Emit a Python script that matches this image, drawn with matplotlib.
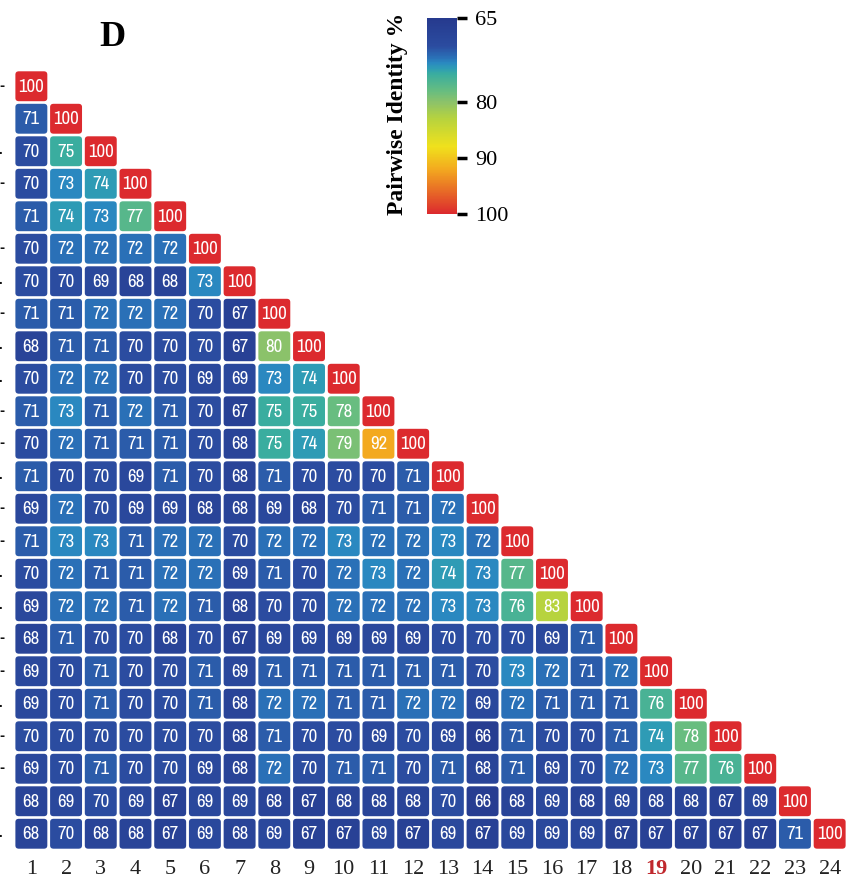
import numpy as np
import matplotlib
matplotlib.use("Agg")
import matplotlib.pyplot as plt
from matplotlib.patches import FancyBboxPatch
from matplotlib.colors import LinearSegmentedColormap, Normalize
from matplotlib.cm import ScalarMappable

labels = [str(i) for i in range(1, 25)]
rows = [
    [100],
    [71, 100],
    [70, 75, 100],
    [70, 73, 74, 100],
    [71, 74, 73, 77, 100],
    [70, 72, 72, 72, 72, 100],
    [70, 70, 69, 68, 68, 73, 100],
    [71, 71, 72, 72, 72, 70, 67, 100],
    [68, 71, 71, 70, 70, 70, 67, 80, 100],
    [70, 72, 72, 70, 70, 69, 69, 73, 74, 100],
    [71, 73, 71, 72, 71, 70, 67, 75, 75, 78, 100],
    [70, 72, 71, 71, 71, 70, 68, 75, 74, 79, 92, 100],
    [71, 70, 70, 69, 71, 70, 68, 71, 70, 70, 70, 71, 100],
    [69, 72, 70, 69, 69, 68, 68, 69, 68, 70, 71, 71, 72, 100],
    [71, 73, 73, 71, 72, 72, 70, 72, 72, 73, 72, 72, 73, 72, 100],
    [70, 72, 71, 71, 72, 72, 69, 71, 70, 72, 73, 72, 74, 73, 77, 100],
    [69, 72, 72, 71, 72, 71, 68, 70, 70, 72, 72, 72, 73, 73, 76, 83, 100],
    [68, 71, 70, 70, 68, 70, 67, 69, 69, 69, 69, 69, 70, 70, 70, 69, 71, 100],
    [69, 70, 71, 70, 70, 71, 69, 71, 71, 71, 71, 71, 71, 70, 73, 72, 71, 72, 100],
    [69, 70, 71, 70, 70, 71, 68, 72, 72, 71, 71, 72, 72, 69, 72, 71, 71, 71, 76, 100],
    [70, 70, 70, 70, 70, 70, 68, 71, 70, 70, 69, 70, 69, 66, 71, 70, 70, 71, 74, 78, 100],
    [69, 70, 71, 70, 70, 69, 68, 72, 70, 71, 71, 70, 71, 68, 71, 69, 70, 72, 73, 77, 76, 100],
    [68, 69, 70, 69, 67, 69, 69, 68, 67, 68, 68, 68, 70, 66, 68, 69, 68, 69, 68, 68, 67, 69, 100],
    [68, 70, 68, 68, 67, 69, 68, 69, 67, 67, 69, 67, 69, 67, 69, 69, 69, 67, 67, 67, 67, 67, 71, 100],
]
highlight_label = "19"
cbar_ticks = [65, 80, 90, 100]
# cropped remnants of row labels at the far left edge
edge_marks = ["-", "", ".", "-", "", "-", ".", "-", ".", ".", "-", "-",
              ".", "-", "-", ".", ".", "-", "-", ".", "-", "-", "", "."]

vmin, vmax = 65, 100
stops = [(65, "#263a8e"), (70, "#2b4ca0"), (72, "#2a70b7"), (73, "#2a89c0"),
         (74, "#2e9db4"), (75, "#3aad9f"), (78, "#67bd80"), (80, "#8cc26a"),
         (83, "#b7d33e"), (88, "#f0e11c"), (92, "#f3aa1f"), (100, "#dc2a2e")]
cmap = LinearSegmentedColormap.from_list(
    "pid", [((v - vmin) / (vmax - vmin), c) for v, c in stops])
norm = Normalize(vmin, vmax)

W, H = 848, 883
fig = plt.figure(figsize=(W / 100, H / 100), dpi=100)

n = len(labels)
ax = fig.add_axes([14 / W, 1 - 850 / H, 833 / W, 780 / H])
ax.set_xlim(0, n)
ax.set_ylim(n, 0)
ax.axis("off")

num_font = ["Liberation Sans Narrow", "Archivo Narrow", "Liberation Sans", "DejaVu Sans"]
for i, row in enumerate(rows):
    for j, v in enumerate(row):
        g = 0.04
        p = FancyBboxPatch((j + g, i + g), 1 - 2 * g, 1 - 2 * g,
                           boxstyle="round,pad=0,rounding_size=0.1",
                           facecolor=cmap(norm(v)), edgecolor="none")
        ax.add_patch(p)
        ax.text(j + 0.5, i + 0.52, str(v), ha="center", va="center",
                color="white", fontsize=13.5, family=num_font)

serif = ["Liberation Serif", "DejaVu Serif"]
for j, lab in enumerate(labels):
    hl = lab == highlight_label
    ax.text(j + 0.5, n + 0.6, lab, ha="center", va="center",
            fontsize=16, family=serif,
            color="#c0282d" if hl else "#222222",
            fontweight="bold" if hl else "normal", clip_on=False)

for i, m in enumerate(edge_marks):
    if m:
        ax.text(-0.42, i + 0.5, m, ha="left", va="center", fontsize=9 if m == "-" else 7,
                fontweight="bold", color="#111111", clip_on=False)

fig.text(112 / W, 1 - 38 / H, "D", ha="center", va="center", fontsize=26,
         fontweight="bold", family=serif)

cax = fig.add_axes([427 / W, 1 - 214 / H, 30 / W, 196 / H])
sm = ScalarMappable(norm=norm, cmap=cmap)
cb = fig.colorbar(sm, cax=cax, ticks=cbar_ticks)
cb.outline.set_visible(False)
cax.invert_yaxis()
cax.tick_params(axis="y", length=7, width=2.5, pad=6, labelsize=16)
for t in cax.get_yticklabels():
    t.set_family(serif)
fig.text(397 / W, 1 - 114 / H, "Pairwise Identity %", rotation=90,
         ha="center", va="center", fontsize=17, fontweight="bold", family=serif)

fig.savefig("out.png", dpi=100)
